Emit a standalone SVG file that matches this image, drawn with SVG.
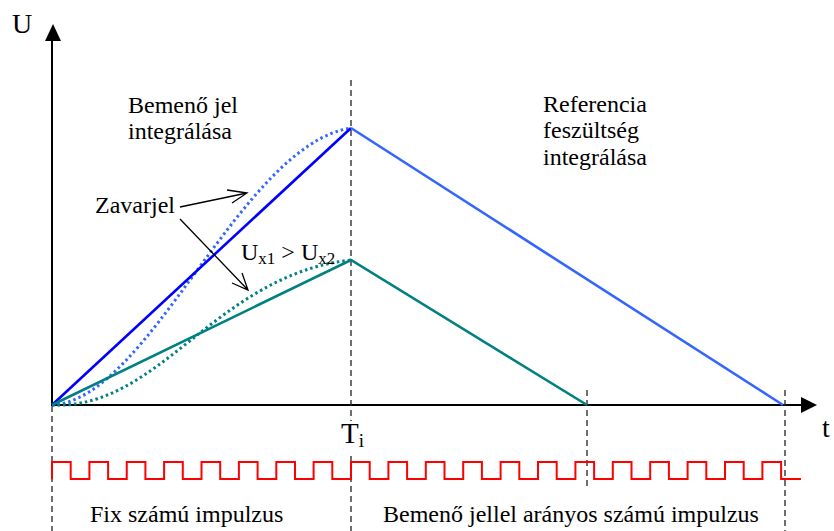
<svg xmlns="http://www.w3.org/2000/svg" width="834" height="531" viewBox="0 0 834 531">
<style>
text{font-family:"Liberation Serif","Times New Roman",serif;fill:#000}
.lbl{font-size:24px}
.axis{stroke:#000;stroke-width:2;fill:none}
.dash{stroke:#222;stroke-width:1.3;stroke-dasharray:6,4;fill:none}
.blue{stroke:#0000ff;stroke-width:2.6;fill:none}
.lblue{stroke:#3366ff;stroke-width:2.6;fill:none}
.teal{stroke:#008080;stroke-width:2.6;fill:none}
.dotb{stroke:#3366ff;stroke-width:3;stroke-dasharray:2.5,3;fill:none}
.dott{stroke:#008080;stroke-width:3;stroke-dasharray:2.5,3;fill:none}
.ptr{stroke:#000;stroke-width:1.3;fill:none}
</style>
<rect width="834" height="531" fill="#fff"/>
<g id="axes">
<line class="axis" x1="52" y1="406" x2="52" y2="38"/>
<polygon points="53,24 45,41 61,41" fill="#000"/>
<line class="axis" x1="51" y1="405" x2="804" y2="405"/>
<polygon points="817,405 801,397 801,413" fill="#000"/>
<text x="12" y="33" style="font-size:28px">U</text>
<text x="822" y="437" style="font-size:28px">t</text>
</g>
<g id="guides">
<line class="dash" x1="52" y1="406" x2="52" y2="531"/>
<line class="dash" x1="351" y1="80" x2="351" y2="421"/>
<line class="dash" x1="351" y1="456" x2="351" y2="531"/>
<line class="dash" x1="587" y1="390" x2="587" y2="490"/>
<line class="dash" x1="785" y1="390" x2="785" y2="531"/>
</g>
<g id="connectors">
<path class="dotb" d="M52,405 C150,400 240,145 351,128"/>
<path class="dott" d="M52,405 C160,410 215,275 351,260"/>
<line class="blue" x1="52" y1="405" x2="351" y2="128"/>
<line class="lblue" x1="351" y1="128" x2="783" y2="405"/>
<polyline class="teal" points="52,405 351,260 587,405"/>
<path class="ptr" d="M180,207 L247,193 M227,190 L247,193 L232,203"/>
<path class="ptr" d="M180,219 L248,290 M232,283 L248,290 L242,273"/>
</g>
<g id="pulses">
<path fill="none" stroke="#ff0000" stroke-width="2" d="M52,479 V462 H70.7 V479 H89.4 V462 H108.1 V479 H126.75 V462 H145.4 V479 H164.1 V462 H182.8 V479 H201.5 V462 H220.2 V479 H238.9 V462 H257.6 V479 H276.3 V462 H295 V479 H313.6 V462 H332.3 V479 H351 V462 H369.7 V479 H388.4 V462 H407.1 V479 H425.8 V462 H444.5 V479 H463.2 V462 H481.9 V479 H500.6 V462 H519.3 V479 H538 V462 H556.7 V479 H575.4 V462 H594.1 V479 H612.8 V462 H631.5 V479 H650.2 V462 H668.9 V479 H687.6 V462 H706.3 V479 H725 V462 H743.7 V479 H762.4 V462 H781.1 V479 H801"/>
</g>
<g id="label-bemeno">
<text class="lbl" x="128" y="113">Bemenő jel</text>
<text class="lbl" x="128" y="139">integrálása</text>
</g>
<g id="label-referencia">
<text class="lbl" x="543" y="112">Referencia</text>
<text class="lbl" x="543" y="138">feszültség</text>
<text class="lbl" x="543" y="165">integrálása</text>
</g>
<g id="label-zavarjel">
<text class="lbl" x="95" y="213">Zavarjel</text>
</g>
<g id="label-ux">
<text class="lbl" x="241" y="260">U<tspan style="font-size:17px" dy="4">x1</tspan><tspan dy="-4"> &gt; U</tspan><tspan style="font-size:17px" dy="4">x2</tspan></text>
</g>
<g id="label-ti">
<text x="341" y="443" style="font-size:29px">T<tspan style="font-size:19px" dy="4">i</tspan></text>
</g>
<g id="label-fix">
<text class="lbl" x="90" y="522">Fix számú impulzus</text>
</g>
<g id="label-aranyos">
<text class="lbl" x="383" y="522">Bemenő jellel arányos számú impulzus</text>
</g>
</svg>
